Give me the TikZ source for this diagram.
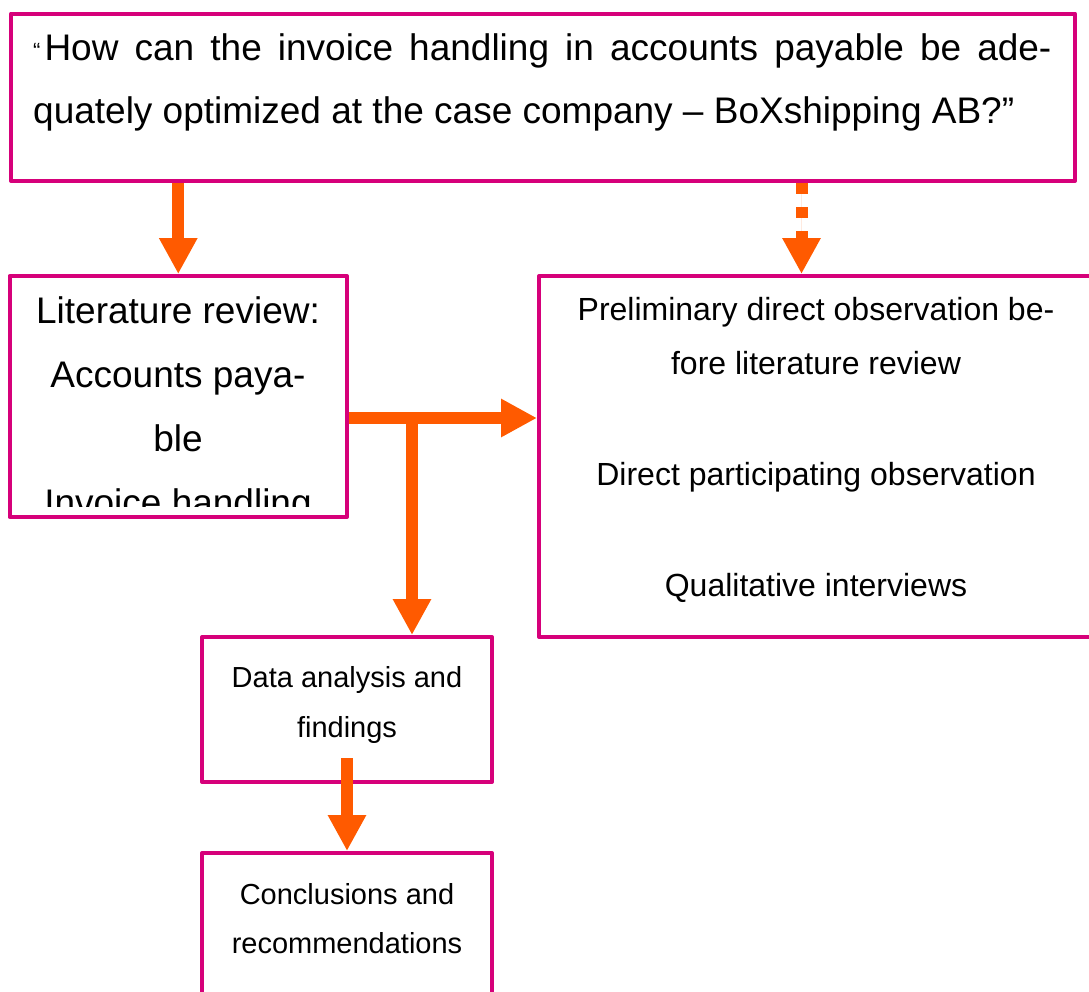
\documentclass[tikz,border=0pt]{standalone}
\usepackage{fontspec}
\setmainfont{Liberation Sans}
\usetikzlibrary{arrows.meta,calc}
\definecolor{framec}{HTML}{D6007A}
\definecolor{arrowc}{HTML}{FF5A00}
\newcommand\fsTop{\fontsize{37pt}{44pt}\selectfont}
\newcommand\fsLit{\fontsize{37pt}{44pt}\selectfont}
\newcommand\fsObs{\fontsize{32pt}{38pt}\selectfont}
\newcommand\fsSmall{\fontsize{29pt}{34pt}\selectfont}
\tikzset{
  box/.style={draw=framec, line width=4pt, rectangle, inner sep=0pt, line join=round},
  txt/.style={anchor=base, inner sep=0pt, text=black},
  arr/.style={draw=arrowc, fill=arrowc, line width=12pt, -{Triangle[width=36pt,length=36pt]}},
  dasharr/.style={arr, dash pattern=on 11pt off 13pt},
}
\begin{document}
\begin{tikzpicture}[x=1pt,y=-1pt]
\useasboundingbox (0,0) rectangle (1089,991);
% boxes
\node[box, minimum width=1064pt, minimum height=167.5pt] (top) at (543,97.25) {};
\node[box, minimum width=337.5pt, minimum height=241pt] (lit) at (178.25,396.5) {};
\node[box, minimum width=554pt, minimum height=361pt] (obs) at (816,456.5) {};
\node[box, minimum width=290pt, minimum height=145pt] (data) at (347,709.5) {};
\node[box, minimum width=290pt, minimum height=147pt] (concl) at (347,926.5) {};
% top text
\node[txt, anchor=base west] (q1) at (33,60) {\raisebox{2pt}{\fontsize{22pt}{22pt}\selectfont “}\hspace{4pt}\fsTop\makebox[1007pt][s]{How can the invoice handling in accounts payable be ade-}};
\node[txt, anchor=base west] (q2) at (33,123) {\fsTop quately optimized at the case company – BoXshipping AB?”};
% literature text (clipped)
\begin{scope}
\clip (lit.north west) rectangle ($(lit.south east)+(0,-13)$);
\node[txt] (l1) at (178,323) {\fsLit Literature review:};
\node[txt] (l2) at (178,387) {\fsLit Accounts paya-};
\node[txt] (l3) at (178,451) {\fsLit ble};
\node[txt] (l4) at (178,515) {\fsLit Invoice handling};
\end{scope}
% observation text
\node[txt] (o1) at (816,320) {\fsObs Preliminary direct observation be-};
\node[txt] (o2) at (816,374) {\fsObs fore literature review};
\node[txt] (o3) at (816,485) {\fsObs Direct participating observation};
\node[txt] (o4) at (816,596) {\fsObs Qualitative interviews};
% data / conclusions text
\node[txt] (d1) at (347,687) {\fsSmall Data analysis and};
\node[txt] (d2) at (347,737) {\fsSmall findings};
\node[txt] (c1) at (347,904) {\fsSmall Conclusions and};
\node[txt] (c2) at (347,953) {\fsSmall recommendations};
% connectors
\draw[arr] (lit.north |- top.south) -- (lit.north);
\coordinate (dtip) at ($(obs.north west)+(264.5,0)$);
\draw[dasharr] (dtip |- top.south) -- (dtip);
\coordinate (hs) at ($(lit.north east)+(0,144)$);
\draw[arr] (hs) -- (hs -| obs.west);
\coordinate (br) at ($(hs)+(63,-6)$);
\draw[arr] (br) -- (br |- data.north);
\coordinate (ds) at ($(data.south)+(0,-26)$);
\draw[arr] (ds) -- (concl.north);
\end{tikzpicture}
\end{document}
